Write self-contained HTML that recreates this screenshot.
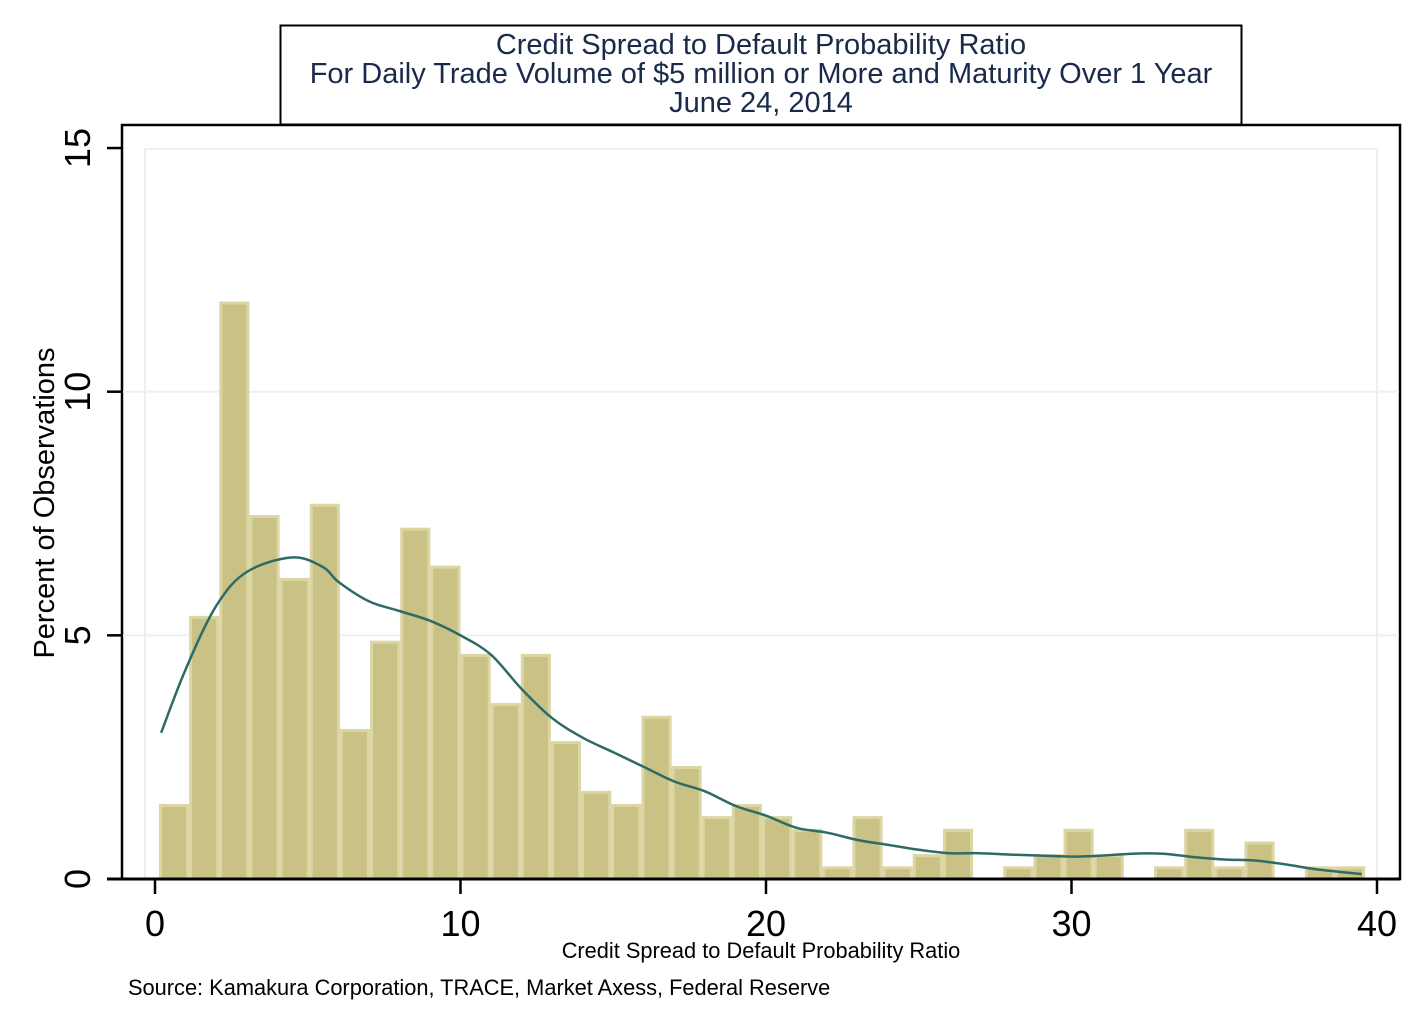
<!DOCTYPE html>
<html><head><meta charset="utf-8"><style>
body{margin:0;background:#fff}
svg text{font-family:"Liberation Sans",Arial,sans-serif}
</style></head><body>
<svg id="chart" width="1423" height="1025" xmlns="http://www.w3.org/2000/svg">
<rect width="1423" height="1025" fill="#fff"/>
<rect x="280.5" y="25.5" width="961" height="99" fill="#fff" stroke="#000" stroke-width="2"/>
<text x="761" y="54" font-size="29" fill="#1a2a4a" text-anchor="middle">Credit Spread to Default Probability Ratio</text>
<text x="761" y="83" font-size="29" fill="#1a2a4a" text-anchor="middle">For Daily Trade Volume of $5 million or More and Maturity Over 1 Year</text>
<text x="761" y="112" font-size="29" fill="#1a2a4a" text-anchor="middle">June 24, 2014</text>
<rect x="122" y="125" width="1278" height="754" fill="#fff" stroke="#000" stroke-width="2.5"/>
<rect x="145" y="149" width="1232" height="730" fill="none" stroke="#eaf1f3" stroke-width="2"/>
<g id="grid"></g><g id="bars"></g><g id="curve"></g><g id="axes"></g>
<text transform="translate(54,503) rotate(-90)" font-size="29" text-anchor="middle" fill="#000">Percent of Observations</text>
<text x="761" y="958" font-size="21.8" text-anchor="middle" fill="#000">Credit Spread to Default Probability Ratio</text>
<text x="128" y="995" font-size="21.8" fill="#000">Source: Kamakura Corporation, TRACE, Market Axess, Federal Reserve</text>
</svg>
<script>
const binStart = 0.13;
const binWidth = 0.987;
const barValues = [1.54,5.4,11.85,7.47,6.18,7.7,3.08,4.89,7.21,6.43,4.62,3.61,4.62,2.83,1.81,1.54,3.35,2.32,1.29,1.54,1.29,1.03,0.26,1.29,0.26,0.51,1.03,0,0.26,0.51,1.03,0.51,0,0.26,1.03,0.26,0.77,0,0.26,0.26];
const curveX = [0.2,1,2,3,4.5,5.5,6,7,8,9,10,11,12,13,14,15,16,17,18,19,20,21,22,23,24,25,26,27,28,29,30,31,32,33,34,35,36,37,38,39.5];
const curveY = [3.0,4.3,5.6,6.3,6.6,6.4,6.1,5.7,5.5,5.3,5.0,4.6,3.9,3.3,2.9,2.6,2.3,2.0,1.8,1.5,1.3,1.05,0.95,0.8,0.7,0.6,0.53,0.53,0.5,0.48,0.46,0.48,0.52,0.52,0.45,0.4,0.38,0.3,0.2,0.1];
const xTicks = [0,10,20,30,40];
const yTicks = [0,5,10,15];
const NS="http://www.w3.org/2000/svg";
const xs = v => 155 + v*30.55;
const ys = v => 879 - v*48.73;
function mk(tag, attrs, parent){const e=document.createElementNS(NS,tag);for(const k in attrs)e.setAttribute(k,attrs[k]);document.getElementById(parent).appendChild(e);return e;}
yTicks.forEach(t=>{
  if(t>0&&t<15){const g=mk('line',{x1:123,x2:1399,y1:ys(t),y2:ys(t),stroke:'#eaf1f3','stroke-width':2},'grid');
  
  }
  const tk=mk('line',{x1:107,x2:122,y1:ys(t),y2:ys(t),stroke:'#000','stroke-width':2.5},'axes');
  
  
  const lb=mk('text',{transform:`translate(90,${ys(t)}) rotate(-90)`,'font-size':36,'text-anchor':'middle',fill:'#000'},'axes');
  lb.textContent=t;
  
  
});
barValues.forEach((v,i)=>{
  if(v<=0)return;
  const x0=xs(binStart+i*binWidth), x1=xs(binStart+(i+1)*binWidth);
  const r=mk('rect',{x:x0+1.5,y:ys(v)+1.5,width:x1-x0-3,height:879-ys(v)-1.5,fill:'#c9c284',stroke:'#dcd6a4','stroke-width':3},'bars');
  
  
});
const P=curveX.map((x,i)=>[xs(x),ys(curveY[i])]);
let d='M'+P[0][0].toFixed(1)+','+P[0][1].toFixed(1);
for(let i=0;i<P.length-1;i++){
  const p0=P[Math.max(0,i-1)],p1=P[i],p2=P[i+1],p3=P[Math.min(P.length-1,i+2)];
  const c1=[p1[0]+(p2[0]-p0[0])/6,p1[1]+(p2[1]-p0[1])/6];
  const c2=[p2[0]-(p3[0]-p1[0])/6,p2[1]-(p3[1]-p1[1])/6];
  d+=`C${c1[0].toFixed(1)},${c1[1].toFixed(1)} ${c2[0].toFixed(1)},${c2[1].toFixed(1)} ${p2[0].toFixed(1)},${p2[1].toFixed(1)}`;
}
const p=mk('path',{d:d,fill:'none',stroke:'#2e6b66','stroke-width':2.5,'stroke-linejoin':'round'},'curve');


const base=mk('line',{x1:107,x2:1400,y1:879,y2:879,stroke:'#000','stroke-width':3},'axes');


xTicks.forEach(t=>{
  const tk=mk('line',{x1:xs(t),x2:xs(t),y1:879,y2:894,stroke:'#000','stroke-width':2.5},'axes');
  
  
  const lb=mk('text',{x:xs(t),y:936,'font-size':36,'text-anchor':'middle',fill:'#000'},'axes');
  lb.textContent=t;
  
  
});
</script>
</body></html>
